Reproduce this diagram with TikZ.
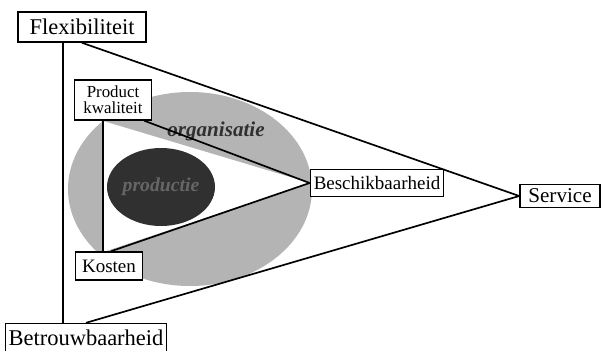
\documentclass[tikz,border=0pt]{standalone}
\usepackage{fontspec}
\setmainfont{Liberation Serif}
\definecolor{OrgGray}{HTML}{B4B4B4}
\definecolor{ProdGray}{HTML}{303030}

\begin{document}
\begin{tikzpicture}[x=0.025cm,y=-0.025cm,line width=1.2pt,
  box/.style={draw,fill=white,line width=1.1pt,inner xsep=2pt,inner ysep=1pt},
  bigfont/.style={font=\fontsize{16}{17}\selectfont},
  midfont/.style={font=\fontsize{13.5}{15}\selectfont},
  smallfont/.style={font=\fontsize{12}{11.5}\selectfont}]
\useasboundingbox (0,0) rectangle (604,350);
% organisatie ring and production core
\fill[OrgGray] (190,189) ellipse [x radius=122,y radius=97];
\fill[white] (103,121) -- (103,252) -- (310,183) -- cycle;
\fill[ProdGray] (161,187) ellipse [x radius=54,y radius=39];
\node[font=\fontsize{15}{15}\bfseries\itshape\selectfont,ProdGray] (org) at (216,131) {organisatie};
\node[font=\fontsize{14}{14}\bfseries\itshape\selectfont,black!60] (prod) at (161,187) {productie};
% nodes
\node[box,bigfont,minimum width=3.2cm,minimum height=0.75cm] (flex) at (82,27) {Flexibiliteit};
\node[box,bigfont,minimum width=3.95cm,minimum height=0.72cm] (betr) at (86,338) {Betrouwbaarheid};
\node[box,font=\fontsize{15}{16}\selectfont,minimum width=2cm,minimum height=0.58cm] (serv) at (560,196) {Service};
\node[box,midfont,minimum width=3.33cm,minimum height=0.68cm] (besch) at (377,183) {Beschikbaarheid};
\node[box,midfont,minimum width=1.68cm,minimum height=0.7cm] (kost) at (109,266) {Kosten};
\node[box,smallfont,align=center,minimum width=1.93cm,minimum height=1cm] (pk) at (113,100) {Product\\kwaliteit};
% outer triangle
\draw ([xshift=-19*0.025cm]flex.south) -- ([xshift=-19*0.025cm]flex.south |- betr.north);
\draw (flex.south) -- (serv.west);
\draw (betr.north) -- (serv.west);
% inner triangle
\draw (pk.south -| 103,0) -- (kost.north -| 103,0);
\draw ([xshift=-8*0.025cm]pk.south east) -- (besch.west);
\draw ([xshift=2*0.025cm]kost.north) -- (besch.west);
\end{tikzpicture}
\end{document}
